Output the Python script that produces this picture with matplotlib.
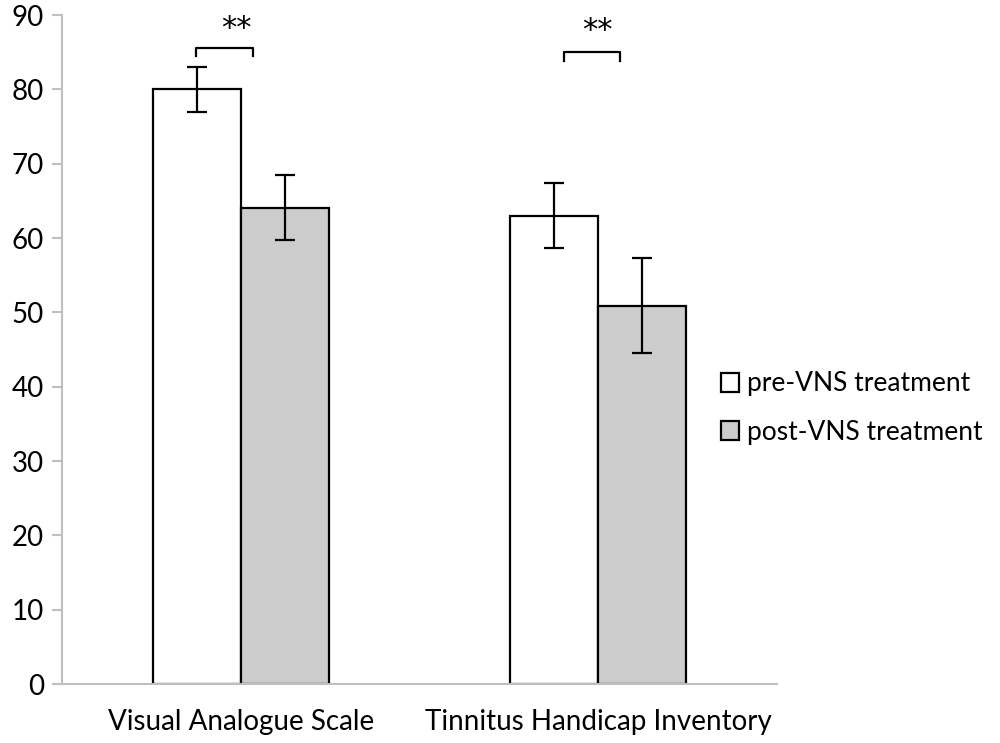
import matplotlib.pyplot as plt
import numpy as np

categories = ["Visual Analogue Scale", "Tinnitus Handicap Inventory"]
pre_vals = [80.0, 63.0]
pre_err_lo = [3.0, 4.3]
pre_err_hi = [3.0, 4.4]
post_vals = [64.1, 50.9]
post_err_lo = [4.4, 6.4]
post_err_hi = [4.4, 6.4]
series_labels = ["pre-VNS treatment", "post-VNS treatment"]
y_ticks = [0, 10, 20, 30, 40, 50, 60, 70, 80, 90]
sig_text = ["**", "**"]

plt.rcParams['font.family'] = ['Lato', 'DejaVu Sans']

fig = plt.figure(figsize=(10, 7.43), dpi=100)
ax = fig.add_axes([0.062, 0.0794, 0.715, 0.9004])

x = np.arange(len(categories))
w = 0.246
grey_ax = "#BFBFBF"

b1 = ax.bar(x - w / 2, pre_vals, w, color="white", edgecolor="black", linewidth=1.6,
            label=series_labels[0], zorder=2)
b2 = ax.bar(x + w / 2, post_vals, w, color="#CCCCCC", edgecolor="black", linewidth=1.6,
            label=series_labels[1], zorder=2)
ax.errorbar(x - w / 2, pre_vals, yerr=[pre_err_lo, pre_err_hi], fmt="none",
            ecolor="black", elinewidth=1.6, capsize=7, capthick=1.6, zorder=3)
ax.errorbar(x + w / 2, post_vals, yerr=[post_err_lo, post_err_hi], fmt="none",
            ecolor="black", elinewidth=1.6, capsize=7, capthick=1.6, zorder=3)

# significance brackets
br_top = [85.6, 85.0]
br_leg = [84.5, 83.8]
br_x0 = [-0.124, -0.095]
br_x1 = [0.033, 0.062]
star_x = [-0.013, -0.003]
star_y = [88.2, 87.9]
for i in range(len(categories)):
    ax.plot([x[i] + br_x0[i], x[i] + br_x0[i], x[i] + br_x1[i], x[i] + br_x1[i]],
            [br_leg[i], br_top[i], br_top[i], br_leg[i]], color="black", lw=1.6,
            solid_joinstyle="round", clip_on=False)
    ax.text(x[i] + star_x[i], star_y[i], sig_text[i], ha="center", va="center",
            fontsize=22, family="DejaVu Sans", clip_on=False)

ax.set_xlim(-0.5, 1.5)
ax.set_ylim(0, 90)
ax.set_yticks(y_ticks)
ax.set_xticks(x)
ax.set_xticklabels(categories)
for s in ["top", "right"]:
    ax.spines[s].set_visible(False)
ax.spines["left"].set_color(grey_ax)
ax.spines["bottom"].set_color(grey_ax)
ax.spines["left"].set_linewidth(1.5)
ax.spines["bottom"].set_linewidth(1.5)
ax.tick_params(axis="y", length=7, width=1.5, color=grey_ax, labelsize=20, pad=6)
ax.tick_params(axis="x", length=0, labelsize=20, pad=18)

ax.legend(loc="upper left", bbox_to_anchor=(0.721, 0.50), bbox_transform=fig.transFigure,
          frameon=False, fontsize=19, handlelength=0.7, handleheight=0.7,
          handletextpad=0.3, labelspacing=0.88, borderaxespad=0, borderpad=0)

fig.savefig("out.png", dpi=100)
